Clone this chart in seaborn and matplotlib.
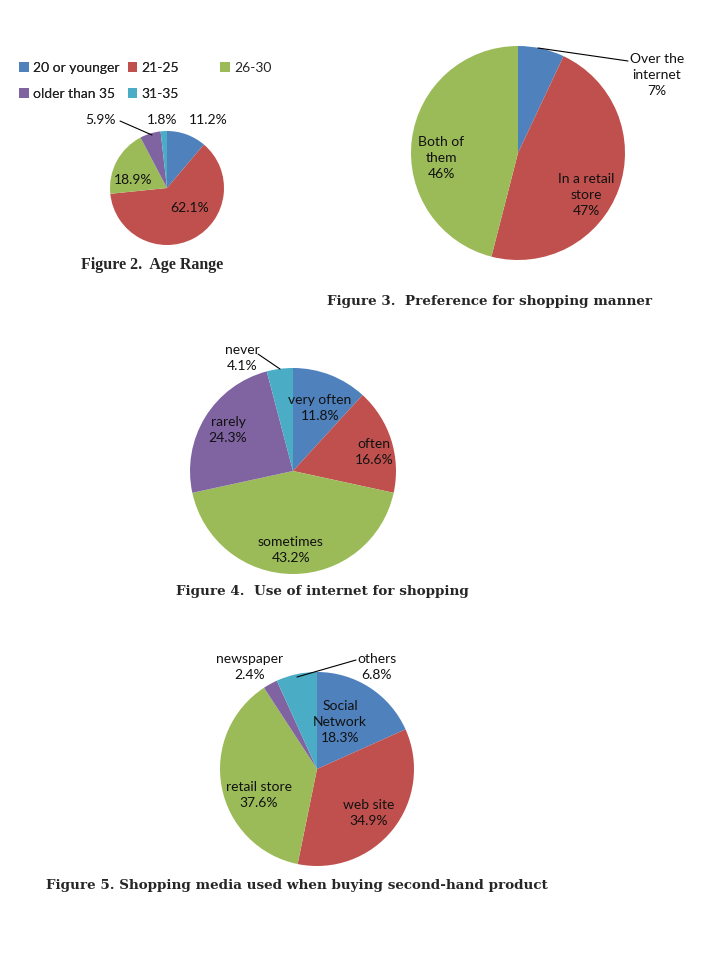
import matplotlib
matplotlib.use("Agg")
import matplotlib.pyplot as plt
import seaborn as sns

sns.set_theme(style="white")
plt.rcParams['font.family'] = ['Lato', 'DejaVu Sans']

# ---------------- data ----------------
age_labels = ["20 or younger", "21-25", "26-30", "older than 35", "31-35"]
age_values = [11.2, 62.1, 18.9, 5.9, 1.8]

manner_labels = ["Over the\ninternet", "In a retail\nstore", "Both of\nthem"]
manner_values = [7, 47, 46]

use_labels = ["very often", "often", "sometimes", "rarely", "never"]
use_values = [11.8, 16.6, 43.2, 24.3, 4.1]

media_labels = ["Social\nNetwork", "web site", "retail store", "newspaper", "others"]
media_values = [18.3, 34.9, 37.6, 2.4, 6.8]

captions = ["Figure 2.  Age Range",
            "Figure 3.  Preference for shopping manner",
            "Figure 4.  Use of internet for shopping",
            "Figure 5. Shopping media used when buying second-hand product"]

palette = sns.color_palette(["#4F81BD", "#C0504D", "#9BBB59", "#8064A2", "#4BACC6"])

W, H = 708, 958
fig = plt.figure(figsize=(W / 100, H / 100), dpi=100)
fig.patch.set_facecolor("white")


def make_pie(cx, cy, r, values, colors):
    ax = fig.add_axes([(cx - r) / W, 1 - (cy + r) / H, 2 * r / W, 2 * r / H])
    wedges, _ = ax.pie(values, colors=colors, startangle=90, counterclock=False,
                       wedgeprops=dict(linewidth=0))
    ax.set_xlim(-1, 1)
    ax.set_ylim(-1, 1)
    ax.set_aspect("equal")
    ax.axis("off")
    return ax, wedges


def ptxt(x, y, s, **kw):
    fig.text(x / W, 1 - y / H, s, ha="center", va="center", fontsize=10,
             color="#111111", linespacing=1.42, **kw)


def pline(x0, y0, x1, y1):
    fig.add_artist(plt.Line2D([x0 / W, x1 / W], [1 - y0 / H, 1 - y1 / H],
                              color="black", lw=0.8))


# ---------- Figure 2 ----------
ax1, w1 = make_pie(167, 188, 57, age_values, palette)
for (x, y), v in zip([(208, 120), (190, 208), (133, 180), (100, 120), (162, 120)], age_values):
    ptxt(x, y, f"{v:.1f}%")
pline(120, 121, 152, 135)

leg1 = fig.legend([w1[0], w1[3], w1[1], w1[4]],
                  [age_labels[0], age_labels[3], age_labels[1], age_labels[4]],
                  ncol=2, loc="upper left", bbox_to_anchor=(12 / W, 1 - 55 / H),
                  frameon=False, fontsize=10, handlelength=0.7, handleheight=0.7,
                  handletextpad=0.3, columnspacing=0.6, labelspacing=1.0, borderpad=0)
fig.legend([w1[2]], [age_labels[2]], loc="upper left",
           bbox_to_anchor=(213 / W, 1 - 55 / H), frameon=False, fontsize=10,
           handlelength=0.7, handleheight=0.7, handletextpad=0.3, borderpad=0)
fig.add_artist(leg1)

# ---------- Figure 3 ----------
ax2, w2 = make_pie(518, 153, 107, manner_values, palette[:3])
for (x, y), lab, v in zip([(657, 75), (586, 195), (441, 158)], manner_labels, manner_values):
    ptxt(x, y, f"{lab}\n{v}%")
pline(538, 48, 628, 61)

# ---------- Figure 4 ----------
ax3, w3 = make_pie(293, 471, 103, use_values, palette)
for (x, y), lab, v in zip([(320, 408), (374, 452), (291, 550), (228, 430), (242, 358)],
                          use_labels, use_values):
    ptxt(x, y, f"{lab}\n{v:.1f}%")
pline(258, 354, 280, 369)

# ---------- Figure 5 ----------
ax4, w4 = make_pie(317, 769, 97, media_values, palette)
for (x, y), lab, v in zip([(340, 722), (369, 813), (259, 795), (250, 667), (377, 667)],
                          media_labels, media_values):
    ptxt(x, y, f"{lab}\n{v:.1f}%")
pline(297, 677, 356, 660)

# ---------- captions ----------
fig.text(81 / W, 1 - 265 / H, captions[0], ha="left", va="center", fontsize=11.5,
         fontweight="bold", family="Liberation Serif")
for (x, y), s in zip([(327, 302), (176, 591), (46, 885)], captions[1:]):
    fig.text(x / W, 1 - y / H, s, ha="left", va="center", fontsize=9.7,
             fontweight="bold", family="DejaVu Serif")

fig.savefig("out.png", dpi=100, facecolor="white")
